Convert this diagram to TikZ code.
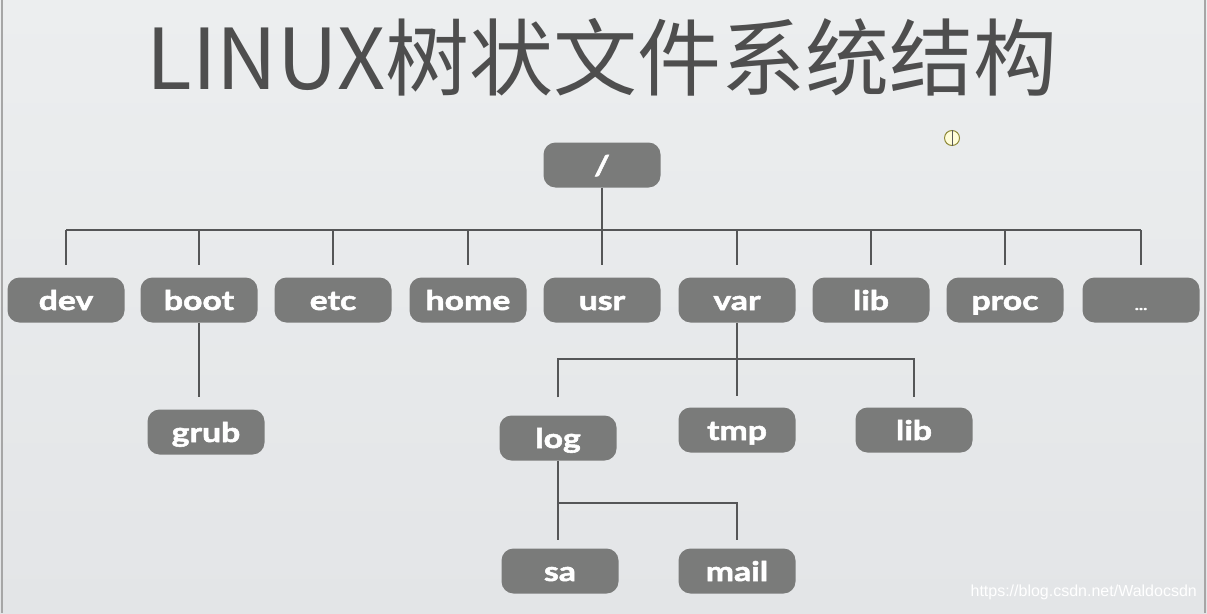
\documentclass[tikz,border=0pt]{standalone}
\usepackage{fontspec}
\newfontfamily\cjk{Noto Sans CJK SC}
\newfontfamily\boxfont{Lato}[BoldFeatures={FakeBold=2,FakeStretch=1.25}]
\newfontfamily\wmfont{Liberation Sans}
\definecolor{bgtop}{HTML}{ECEEEF}
\definecolor{bgbot}{HTML}{E3E5E7}
\definecolor{boxgray}{HTML}{7A7B7A}
\definecolor{linegray}{HTML}{555657}
\definecolor{titlegray}{HTML}{4E4E4E}
\tikzset{
  dirbox/.style={rounded corners=12pt, fill=boxgray, text=white,
    minimum width=117pt, minimum height=45pt, inner sep=0pt,
    text height=20pt, text depth=0pt,
    font=\boxfont\bfseries\fontsize{27}{27}\selectfont},
  conn/.style={draw=linegray, line width=1.8pt}
}
\begin{document}
\begin{tikzpicture}[x=1pt,y=-1pt]
\useasboundingbox (0,0) rectangle (1207,613);
\shade[top color=bgtop, bottom color=bgbot] (0,0) rectangle (1207,613);
\draw[gray!70, line width=1.5pt] (2,0) -- (2,613);
\draw[gray!70, line width=1.5pt] (1205,0) -- (1205,613);

% title
\node[anchor=center, text=titlegray, inner sep=0pt] (title) at (602,57)
  {\cjk\fontsize{84}{84}\selectfont LINUX树状文件系统结构};

% small icon
\node[circle, draw=olive!60!gray, line width=1pt, fill=yellow!15, minimum size=15pt, inner sep=0pt] (icon) at (952,138) {};
\draw[gray!70!black, line width=1pt] (icon.north) -- (icon.south);

% nodes
\node[dirbox] (root) at (602,165) {/};
\node[dirbox] (dev)  at (66,300)   {dev};
\node[dirbox] (boot) at (199,300)  {boot};
\node[dirbox] (etc)  at (333,300)  {etc};
\node[dirbox] (home) at (468,300)  {home};
\node[dirbox] (usr)  at (602,300)  {usr};
\node[dirbox] (var)  at (737,300)  {var};
\node[dirbox] (lib)  at (871,300)  {lib};
\node[dirbox] (proc) at (1005,300) {proc};
\node[dirbox] (more) at (1141,300) {\fontsize{14}{14}\selectfont ...};

\node[dirbox] (grub) at (206,432) {grub};
\node[dirbox] (log)  at (558,438) {log};
\node[dirbox] (tmp)  at (737,430) {tmp};
\node[dirbox] (lib2) at (914,430) {lib};
\node[dirbox] (sa)   at (560,571) {sa};
\node[dirbox] (mail) at (737,571) {mail};

% connectors, first level
\coordinate (bus) at (0,230);
\draw[conn] (dev.north|-bus) -- (more.north|-bus);
\draw[conn] (root.south) -- ([yshift=12pt]usr.north);
\foreach \n in {dev,boot,etc,home,var,lib,proc,more}
  \draw[conn] (\n.north|-bus) -- ([yshift=12pt]\n.north);

% boot -> grub
\draw[conn] (boot.south) -- ([yshift=12pt]grub.north -| boot.south);

% var subtree
\coordinate (bus2) at (0,359);
\draw[conn] (var.south) -- ([yshift=11pt]tmp.north);
\draw[conn] ([yshift=18pt]log.north) -- (log.north|-bus2) -- (lib2.north|-bus2) -- ([yshift=10pt]lib2.north);

% log subtree
\coordinate (bus3) at (0,503);
\draw[conn] (log.south) -- ([yshift=8pt]sa.north -| log.south);
\draw[conn] (log.south|-bus3) -- (mail.north|-bus3) -- ([yshift=8pt]mail.north);

% watermark
\node[anchor=east, text=white, inner sep=0pt, font=\wmfont\fontsize{16}{16}\selectfont] (wm) at (1197,592) {https://blog.csdn.net/Waldocsdn};
\end{tikzpicture}
\end{document}
